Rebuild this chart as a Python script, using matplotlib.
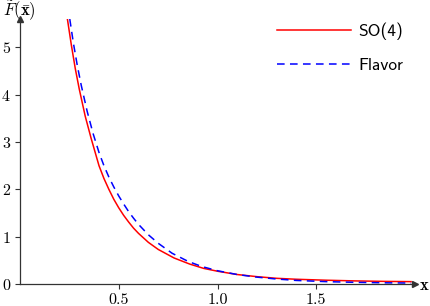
import matplotlib
matplotlib.use("Agg")
import matplotlib.pyplot as plt

plt.rcParams['mathtext.fontset'] = 'cm'
plt.rcParams['axes.formatter.use_mathtext'] = True

# values
x_so4 = [0.24, 0.26, 0.28, 0.30, 0.33, 0.36, 0.40, 0.425, 0.45, 0.475, 0.50, 0.525,
         0.55, 0.575, 0.60, 0.65, 0.70, 0.78, 0.86, 0.93, 1.00, 1.10, 1.20, 1.30,
         1.40, 1.55, 1.70, 1.85, 1.98]
y_so4 = [5.60, 5.05, 4.55, 4.12, 3.55, 3.08, 2.50, 2.23, 2.00, 1.79, 1.61, 1.45,
         1.31, 1.18, 1.07, 0.88, 0.73, 0.55, 0.42, 0.33, 0.27, 0.20, 0.155, 0.12,
         0.10, 0.08, 0.065, 0.055, 0.05]

x_flavor = [0.252, 0.27, 0.29, 0.31, 0.34, 0.37, 0.40, 0.425, 0.45, 0.475, 0.50, 0.525,
            0.55, 0.575, 0.60, 0.65, 0.70, 0.77, 0.85, 0.92, 1.00, 1.10, 1.20, 1.30,
            1.40, 1.55, 1.70, 1.85, 1.98]
y_flavor = [5.60, 5.10, 4.62, 4.20, 3.65, 3.18, 2.78, 2.50, 2.26, 2.05, 1.86, 1.69,
            1.53, 1.39, 1.26, 1.04, 0.86, 0.65, 0.48, 0.37, 0.28, 0.20, 0.145, 0.105,
            0.075, 0.05, 0.035, 0.025, 0.02]

x_ticks = [0.5, 1.0, 1.5]
x_ticklabels = ["0.5", "1.0", "1.5"]
y_ticks = [0, 1, 2, 3, 4, 5]

fig = plt.figure(figsize=(4.3, 3.06), dpi=100)
ax = fig.add_axes([20 / 430, 22 / 306, 395 / 430, 265 / 306])

ax.plot(x_so4, y_so4, color="red", lw=1.1, label="SO(4)")
ax.plot(x_flavor, y_flavor, color="blue", lw=1.1, ls=(0, (5, 3.5)), label="Flavor")

ax.set_xlim(0, 2.0)
ax.set_ylim(0, 5.6)

for s in ["top", "right"]:
    ax.spines[s].set_visible(False)
for s in ["left", "bottom"]:
    ax.spines[s].set_linewidth(0.9)
    ax.spines[s].set_color("#333333")

ax.plot(1, 0, ">", color="#333333", ms=4, transform=ax.get_yaxis_transform(), clip_on=False)
ax.plot(0, 1, "^", color="#333333", ms=4, transform=ax.get_xaxis_transform(), clip_on=False)

ax.set_xticks(x_ticks)
ax.set_xticklabels(x_ticklabels)
ax.set_yticks(y_ticks)
ax.tick_params(direction="out", length=3.5, width=0.8, color="#333333", pad=3)
for lab in ax.get_xticklabels() + ax.get_yticklabels():
    lab.set_family("cmr10")
    lab.set_fontsize(11.5)

fig.text(19 / 430, 1 - 11 / 306, r"$\tilde{F}(\bar{\mathbf{x}})$", fontsize=12,
         ha="center", va="center")
fig.text(424 / 430, 1 - 285 / 306, r"$\mathbf{x}$", fontsize=12, ha="center", va="center")

leg = ax.legend(loc="upper right", bbox_to_anchor=(1.01, 1.045), frameon=False,
                prop={"family": "cmss10", "size": 12.5}, handlelength=4.3,
                handletextpad=0.4, labelspacing=1.0)

fig.savefig("out.png", dpi=100)
